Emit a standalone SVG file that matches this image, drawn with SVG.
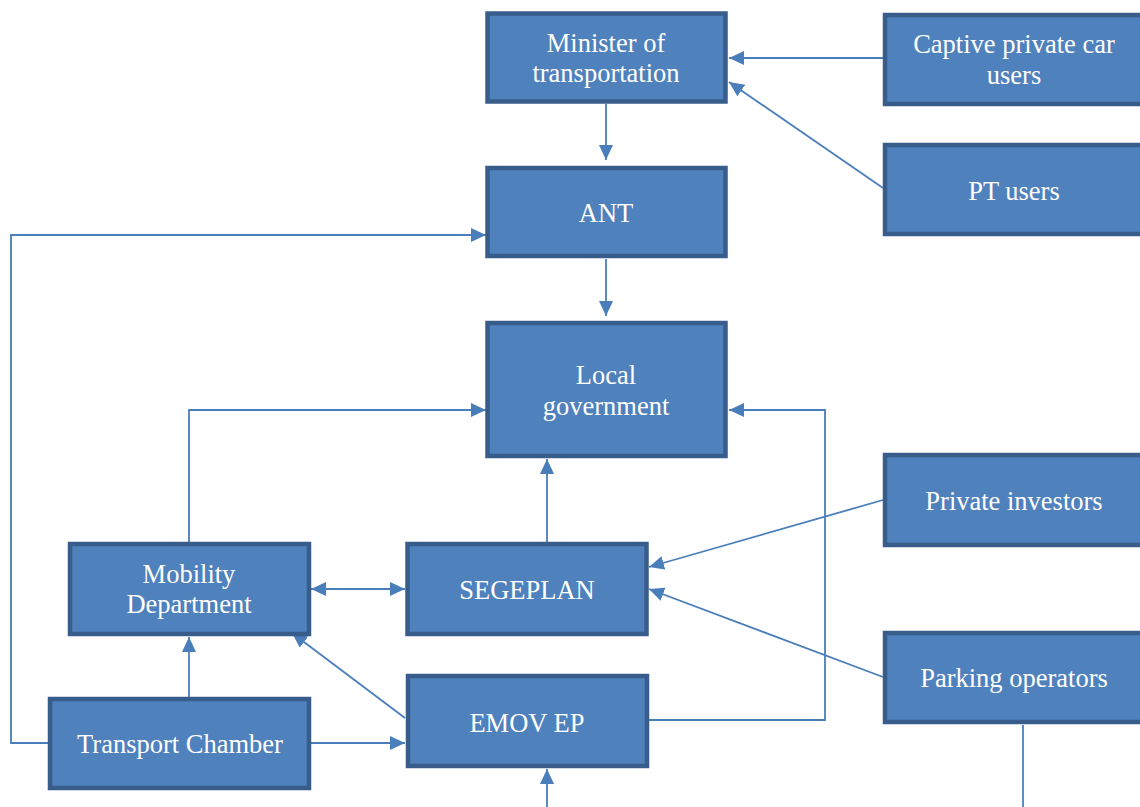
<svg xmlns="http://www.w3.org/2000/svg" width="1140" height="807" viewBox="0 0 1140 807">
<style>
.box{fill:#4F81BD;stroke:#385D8A;stroke-width:4.5}
.t{font-family:"Liberation Serif","Times New Roman",serif;font-size:26.5px;fill:#FFFFFF;text-anchor:middle}
.c{fill:none;stroke:#4A7EBB;stroke-width:1.8}
</style>
<defs>
<marker id="ah" markerUnits="userSpaceOnUse" markerWidth="16" markerHeight="14" refX="15" refY="7" orient="auto">
<path d="M0,0 L15,7 L0,14 Z" fill="#4A7EBB"/>
</marker>
<marker id="as" markerUnits="userSpaceOnUse" markerWidth="16" markerHeight="14" refX="0" refY="7" orient="auto">
<path d="M15,0 L0,7 L15,14 Z" fill="#4A7EBB"/>
</marker>
</defs>
<g id="connectors">
<line class="c" x1="883" y1="58" x2="729" y2="58" marker-end="url(#ah)"/>
<line class="c" x1="883" y1="188" x2="729" y2="82" marker-end="url(#ah)"/>
<line class="c" x1="606" y1="104" x2="606" y2="160" marker-end="url(#ah)"/>
<line class="c" x1="606" y1="259" x2="606" y2="316" marker-end="url(#ah)"/>
<polyline class="c" points="48,743 11,743 11,235 486,235" marker-end="url(#ah)"/>
<polyline class="c" points="189,542 189,410 486,410" marker-end="url(#ah)"/>
<polyline class="c" points="649,720 825,720 825,410 729,410" marker-end="url(#ah)"/>
<line class="c" x1="547" y1="542" x2="547" y2="459" marker-end="url(#ah)"/>
<line class="c" x1="311" y1="589" x2="405" y2="589" marker-start="url(#as)" marker-end="url(#ah)"/>
<line class="c" x1="883" y1="500" x2="649" y2="567" marker-end="url(#ah)"/>
<line class="c" x1="883" y1="677" x2="649" y2="589" marker-end="url(#ah)"/>
<line class="c" x1="405" y1="718" x2="292" y2="633" marker-end="url(#ah)"/>
<line class="c" x1="189" y1="697" x2="189" y2="637" marker-end="url(#ah)"/>
<line class="c" x1="311" y1="743" x2="405" y2="743" marker-end="url(#ah)"/>
<line class="c" x1="547" y1="807" x2="547" y2="769" marker-end="url(#ah)"/>
<line class="c" x1="1023" y1="725" x2="1023" y2="807"/>
</g>
<g id="minister"><rect class="box" x="487.5" y="13.5" width="238" height="88"/><text class="t" x="606" y="52">Minister of</text><text class="t" x="606" y="82">transportation</text></g>
<g id="captive"><rect class="box" x="885" y="15" width="270" height="89"/><text class="t" x="1014" y="53">Captive private car</text><text class="t" x="1014" y="84">users</text></g>
<g id="ptusers"><rect class="box" x="885" y="145" width="270" height="89"/><text class="t" x="1014" y="200">PT users</text></g>
<g id="ant"><rect class="box" x="487.5" y="168" width="238" height="88"/><text class="t" x="606" y="222">ANT</text></g>
<g id="localgov"><rect class="box" x="487.5" y="323" width="238" height="133"/><text class="t" x="606" y="384">Local</text><text class="t" x="606" y="415">government</text></g>
<g id="mobility"><rect class="box" x="70" y="544" width="239" height="90"/><text class="t" x="189" y="583">Mobility</text><text class="t" x="189" y="613">Department</text></g>
<g id="segeplan"><rect class="box" x="407.5" y="544" width="239" height="90"/><text class="t" x="527" y="599">SEGEPLAN</text></g>
<g id="transportchamber"><rect class="box" x="50" y="699" width="259" height="89"/><text class="t" x="180" y="753">Transport Chamber</text></g>
<g id="emov"><rect class="box" x="408" y="676" width="239" height="90"/><text class="t" x="527" y="732">EMOV EP</text></g>
<g id="privateinvestors"><rect class="box" x="885" y="455" width="270" height="90"/><text class="t" x="1014" y="510">Private investors</text></g>
<g id="parking"><rect class="box" x="885" y="633" width="270" height="89"/><text class="t" x="1014" y="687">Parking operators</text></g>
</svg>
